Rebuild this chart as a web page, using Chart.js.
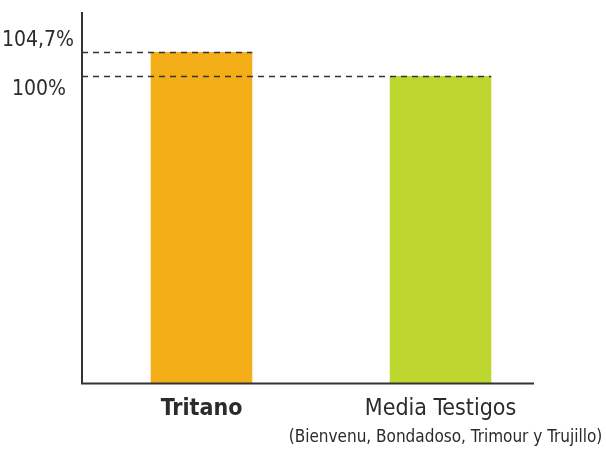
<!DOCTYPE html>
<html>
<head>
<meta charset="utf-8">
<script src="https://cdn.jsdelivr.net/npm/chart.js@4"></script>
<style>
  body { margin: 0; background: #fff; }
  #wrap { width: 606px; height: 450px; }
</style>
</head>
<body>
<div id="wrap"><canvas id="barChart" width="606" height="450"></canvas></div>
<script>
const categories = ['Tritano', 'Media Testigos']
const values = [104.7, 100]
const valueLabels = ['104,7%', '100%']
const subtitle = '(Bienvenu, Bondadoso, Trimour y Trujillo)'
const colors = ['#F4AE18', '#BED630']

const FONT = '"Liberation Sans Narrow", "DejaVu Sans Condensed", sans-serif'

// dashed reference lines, value labels, subtitle, x axis line
const refLines = {
  id: 'refLines',
  afterDatasetsDraw(chart) {
    const ctx = chart.ctx
    const y = chart.scales.y
    const x = chart.scales.x
    const area = chart.chartArea
    const bars = chart.getDatasetMeta(0).data
    ctx.save()
    ctx.strokeStyle = '#333'
    ctx.lineWidth = 1.3
    ctx.setLineDash([6, 5])
    bars.forEach((bar, i) => {
      const py = Math.round(y.getPixelForValue(values[i])) + 0.5
      ctx.beginPath()
      ctx.moveTo(area.left, py)
      ctx.lineTo(bar.x + bar.width / 2, py)
      ctx.stroke()
    })
    ctx.setLineDash([])
    ctx.fillStyle = '#2b2b2b'
    ctx.font = '21px ' + FONT
    ctx.textAlign = 'right'
    values.forEach((v, i) => {
      const py = y.getPixelForValue(v)
      if (i === 0) {
        ctx.textBaseline = 'bottom'
        ctx.fillText(valueLabels[i], 74, py - 1)
      } else {
        ctx.textBaseline = 'top'
        ctx.fillText(valueLabels[i], 66, py + 3)
      }
    })
    // axis lines
    ctx.strokeStyle = '#333'
    ctx.lineWidth = 2
    ctx.beginPath()
    ctx.moveTo(area.left, 12)
    ctx.lineTo(area.left, area.bottom)
    ctx.lineTo(534, area.bottom)
    ctx.stroke()
    // subtitle under second category
    ctx.font = '17px ' + FONT
    ctx.textAlign = 'center'
    ctx.textBaseline = 'middle'
    ctx.fillText(subtitle, x.getPixelForValue(1) + 5, 438)
    ctx.restore()
  }
}

new Chart(document.getElementById('barChart'), {
  type: 'bar',
  data: {
    labels: categories,
    datasets: [{
      data: values,
      backgroundColor: colors,
      borderWidth: 0,
      barPercentage: 0.425,
      categoryPercentage: 1
    }]
  },
  options: {
    responsive: false,
    animation: false,
    devicePixelRatio: 1,
    layout: { padding: { left: 82, right: 46, top: 12, bottom: 23 } },
    plugins: { legend: { display: false }, tooltip: { enabled: false } },
    scales: {
      x: {
        grid: { display: false },
        border: { display: false },
        ticks: {
          color: '#2b2b2b',
          padding: 4,
          font: (c) => ({ family: FONT, size: 23, weight: c.index === 0 ? 'bold' : 'normal' })
        }
      },
      y: {
        display: false,
        min: 40,
        max: 112.5
      }
    }
  },
  plugins: [refLines]
})
</script>
</body>
</html>
